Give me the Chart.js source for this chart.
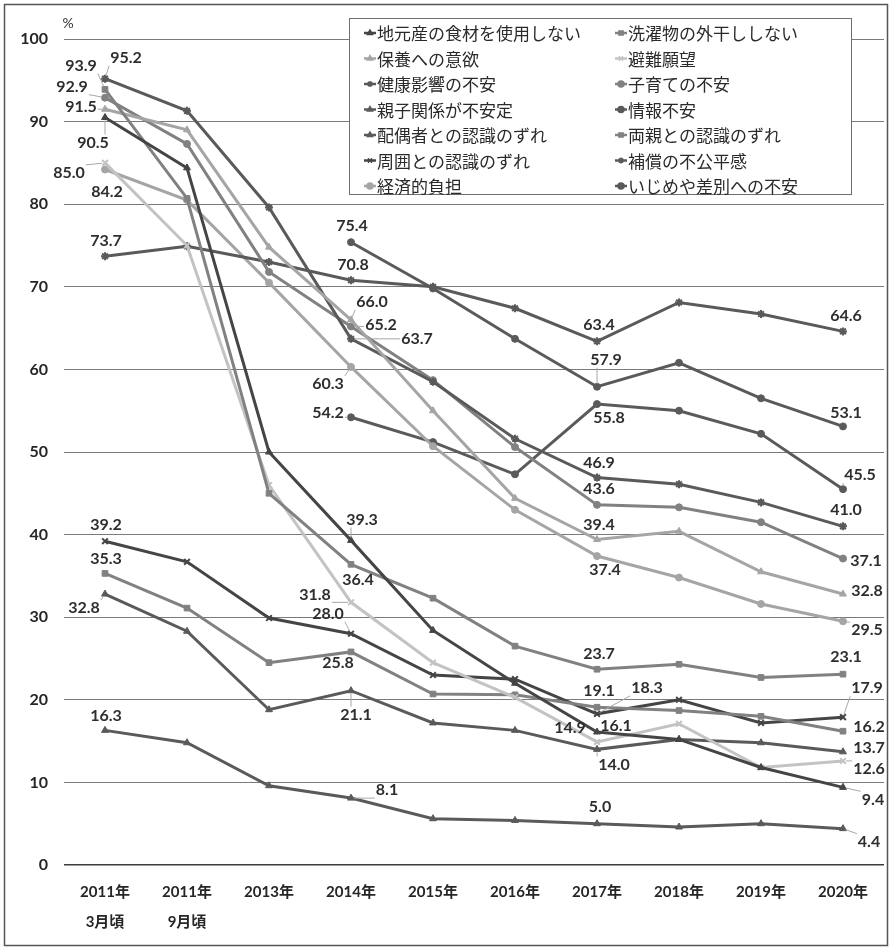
<!DOCTYPE html>
<html lang="ja">
<head>
<meta charset="utf-8">
<script src="https://cdn.jsdelivr.net/npm/chart.js@4.4.1/dist/chart.umd.min.js"></script>
<style>
html,body{margin:0;padding:0;background:#fff;}
canvas{display:block;}
</style>
</head>
<body>
<canvas id="c" width="890" height="951"></canvas>
<script>
// Survey years (x axis)
const years = [['2011年','3月頃'], ['2011年','9月頃'], '2013年', '2014年', '2015年', '2016年', '2017年', '2018年', '2019年', '2020年'];

// Share of respondents (%) per item and year
const localFood          = [90.5, 84.4, 50.0, 39.3, 28.4, 22.0, 16.1, 15.2, 11.8, 9.4];
const noOutdoorLaundry   = [93.9, 80.7, 45.0, 36.4, 32.3, 26.5, 23.7, 24.3, 22.7, 23.1];
const respiteWish        = [91.5, 89.0, 74.8, 66.0, 55.0, 44.4, 39.4, 40.4, 35.5, 32.8];
const evacuationWish     = [85.0, 75.0, 46.0, 31.8, 24.5, 20.3, 14.9, 17.1, 11.8, 12.6];
const healthAnxiety      = [95.2, 91.3, 79.6, 63.7, 58.5, 51.6, 46.9, 46.1, 43.9, 41.0];
const parentingAnxiety   = [92.9, 87.3, 71.8, 65.2, 58.7, 50.6, 43.6, 43.3, 41.5, 37.1];
const parentChildUnstable= [16.3, 14.8, 9.6, 8.1, 5.6, 5.4, 5.0, 4.6, 5.0, 4.4];
const infoAnxiety        = [null, null, null, 75.4, 69.8, 63.7, 57.9, 60.8, 56.5, 53.1];
const spouseGap          = [32.8, 28.3, 18.8, 21.1, 17.2, 16.3, 14.0, 15.2, 14.8, 13.7];
const parentsGap         = [35.3, 31.1, 24.5, 25.8, 20.7, 20.6, 19.1, 18.7, 18.0, 16.2];
const neighborsGap       = [39.2, 36.7, 29.9, 28.0, 23.0, 22.5, 18.3, 20.0, 17.2, 17.9];
const compensationUnfair = [73.7, 74.9, 73.0, 70.8, 70.0, 67.4, 63.4, 68.1, 66.7, 64.6];
const economicBurden     = [84.2, 80.5, 70.5, 60.3, 50.7, 43.0, 37.4, 34.8, 31.6, 29.5];
const bullyingAnxiety    = [null, null, null, 54.2, 51.2, 47.3, 55.8, 55.0, 52.2, 45.5];

const yTicks = [0, 10, 20, 30, 40, 50, 60, 70, 80, 90, 100];

const DARKER = '#454545', DARK = '#5a5a5a', MID = '#818181', LIGHT = '#a5a5a5', PALE = '#c3c3c3';

const series = [
  { label: '地元産の食材を使用しない', data: localFood, color: DARKER, style: 'triangle' },
  { label: '洗濯物の外干ししない', data: noOutdoorLaundry, color: MID, style: 'rect' },
  { label: '保養への意欲', data: respiteWish, color: LIGHT, style: 'triangle' },
  { label: '避難願望', data: evacuationWish, color: PALE, style: 'crossRot' },
  { label: '健康影響の不安', data: healthAnxiety, color: DARK, style: 'star' },
  { label: '子育ての不安', data: parentingAnxiety, color: MID, style: 'circle' },
  { label: '親子関係が不安定', data: parentChildUnstable, color: DARK, style: 'triangle' },
  { label: '情報不安', data: infoAnxiety, color: DARK, style: 'circle' },
  { label: '配偶者との認識のずれ', data: spouseGap, color: DARK, style: 'triangle' },
  { label: '両親との認識のずれ', data: parentsGap, color: MID, style: 'rect' },
  { label: '周囲との認識のずれ', data: neighborsGap, color: DARKER, style: 'crossRot' },
  { label: '補償の不公平感', data: compensationUnfair, color: DARK, style: 'star' },
  { label: '経済的負担', data: economicBurden, color: LIGHT, style: 'circle' },
  { label: 'いじめや差別への不安', data: bullyingAnxiety, color: DARK, style: 'circle' }
];

// Value labels: [series, point, offsetX, offsetY, leader line]
const valueLabels = [
  [4,0,21,-21,1],[1,0,-24,-24,1],[5,0,-33,-11,1],[2,0,-24,-2,1],[0,0,-12,25,1],[3,0,-36,10,1],
  [12,0,2,22,0],[11,0,1,-15,0],[10,0,1,-16,0],[9,0,1,-15,0],[8,0,-21,14,1],[6,0,1,-15,0],
  [7,3,1,-16,0],[11,3,2,-15,0],[2,3,21,-18,1],[5,3,30,-2,1],[4,3,66,0,1],[12,3,-23,17,1],
  [13,3,-23,-4,1],[0,3,11,-21,1],[1,3,7,16,0],[3,3,-36,-7,1],[10,3,-23,-20,1],[9,3,-13,11,0],
  [8,3,5,24,1],[6,3,36,-8,1],
  [11,6,2,-16,0],[7,6,9,-27,1],[13,6,12,14,0],[4,6,2,-15,0],[5,6,2,-16,0],[2,6,2,-15,0],
  [12,6,8,14,0],[1,6,2,-15,0],[9,6,2,-16,0],[10,6,50,-26,1],[0,6,19,-6,0],[3,6,-27,-14,0],
  [8,6,17,15,1],[6,6,3,-17,0],
  [11,9,3,-16,0],[7,9,3,-14,0],[13,9,17,-14,1],[4,9,3,-16,0],[5,9,23,2,0],[2,9,24,-3,0],
  [12,9,24,9,1],[1,9,3,-17,0],[10,9,24,-29,1],[9,9,26,-4,0],[8,9,26,-4,0],[3,9,26,8,1],
  [0,9,30,12,1],[6,9,26,13,1]
];

const NUM_FONT = "Lato, 'Liberation Sans', sans-serif";
const JP_FONT = "'Noto Sans CJK JP', sans-serif";

const valueLabelPlugin = {
  id: 'valueLabels',
  afterDatasetsDraw(chart) {
    const ctx = chart.ctx;
    ctx.save();
    ctx.font = 'bold 16px ' + NUM_FONT;
    ctx.textAlign = 'center';
    ctx.textBaseline = 'middle';
    valueLabels.forEach(([s, i, dx, dy, lead]) => {
      const pt = chart.getDatasetMeta(s).data[i];
      const v = chart.data.datasets[s].data[i];
      if (!pt || v == null) return;
      const text = v.toFixed(1);
      const lx = pt.x + dx, ly = pt.y + dy;
      if (lead) {
        const w = ctx.measureText(text).width / 2 + 1, h = 8;
        const bx = Math.max(lx - w, Math.min(pt.x, lx + w));
        const by = Math.max(ly - h, Math.min(pt.y, ly + h));
        const d = Math.hypot(pt.x - bx, pt.y - by);
        if (d > 4) {
          const k = (d - 3) / d;
          ctx.beginPath();
          ctx.strokeStyle = '#a8a8a8';
          ctx.lineWidth = 1;
          ctx.moveTo(bx, by);
          ctx.lineTo(bx + (pt.x - bx) * k, by + (pt.y - by) * k);
          ctx.stroke();
        }
      }
      ctx.fillStyle = '#2e2e2e';
      ctx.fillText(text, lx, ly);
    });
    ctx.restore();
  }
};

const framePlugin = {
  id: 'frame',
  afterDraw(chart) {
    const ctx = chart.ctx;
    ctx.save();
    // unit label
    ctx.fillStyle = '#333';
    ctx.font = '14px ' + NUM_FONT;
    ctx.textAlign = 'center';
    ctx.textBaseline = 'middle';
    ctx.fillText('%', 68, 23);

    // legend box
    const L = 349, T = 18, R = 851, B = 194;
    ctx.fillStyle = '#fff';
    ctx.fillRect(L, T, R - L, B - T);
    ctx.strokeStyle = '#6e6e6e';
    ctx.lineWidth = 1;
    ctx.strokeRect(L + 0.5, T + 0.5, R - L, B - T);
    ctx.font = '17px ' + JP_FONT;
    ctx.textAlign = 'left';
    ctx.textBaseline = 'middle';
    series.forEach((s, k) => {
      const col = k % 2, row = Math.floor(k / 2);
      const mx = col === 0 ? 370 : 621;
      const tx = col === 0 ? 377 : 628;
      const y = 33 + row * 25.5;
      ctx.strokeStyle = s.color;
      ctx.fillStyle = s.color;
      ctx.lineWidth = 2.5;
      ctx.beginPath();
      ctx.moveTo(mx - 6, y);
      ctx.lineTo(mx + 6, y);
      ctx.stroke();
      ctx.lineWidth = 1.5;
      Chart.helpers.drawPoint(ctx, { pointStyle: s.style, radius: 3, rotation: 0, borderWidth: 1.5 }, mx, y);
      ctx.fillStyle = '#2a2a2a';
      ctx.fillText(s.label, tx, y + 1);
    });

    // outer frame
    ctx.strokeStyle = '#555';
    ctx.lineWidth = 1.5;
    ctx.strokeRect(4.5, 4.5, 883, 941);
    ctx.restore();
  }
};

new Chart(document.getElementById('c'), {
  type: 'line',
  data: {
    labels: years,
    datasets: series.map(s => ({
      label: s.label,
      data: s.data,
      borderColor: s.color,
      backgroundColor: s.color,
      pointBackgroundColor: s.color,
      pointBorderColor: s.color,
      pointStyle: s.style,
      pointRadius: s.style === 'circle' ? 3.5 : 4,
      pointBorderWidth: (s.style === 'crossRot' || s.style === 'star') ? 2 : 1,
      borderWidth: 3,
      tension: 0,
      fill: false,
      spanGaps: false
    }))
  },
  options: {
    responsive: false,
    animation: false,
    devicePixelRatio: 1,
    layout: { padding: { top: 39, right: 3, left: 0, bottom: 0 } },
    plugins: { legend: { display: false }, tooltip: { enabled: false } },
    scales: {
      x: {
        offset: true,
        grid: { display: false, drawTicks: false },
        border: { display: false },
        ticks: {
          color: '#262626',
          font: { family: NUM_FONT + ", 'Noto Sans CJK JP'", size: 15, weight: 'bold', lineHeight: 2 },
          padding: 12, maxRotation: 0, autoSkip: false
        },
        afterFit(s) { s.height = 86; }
      },
      y: {
        min: 0, max: 100,
        afterBuildTicks(s) { s.ticks = yTicks.map(v => ({ value: v })); },
        ticks: { padding: 16, color: '#262626', font: { family: NUM_FONT, size: 16, weight: 'bold' } },
        grid: {
          drawTicks: false,
          color: c => c.tick && c.tick.value === 0 ? '#3c3c3c' : '#7a7a7a',
          lineWidth: c => c.tick && c.tick.value === 0 ? 1.5 : 1
        },
        border: { display: false },
        afterFit(s) { s.width = 64; }
      }
    }
  },
  plugins: [valueLabelPlugin, framePlugin]
});
</script>
</body>
</html>
